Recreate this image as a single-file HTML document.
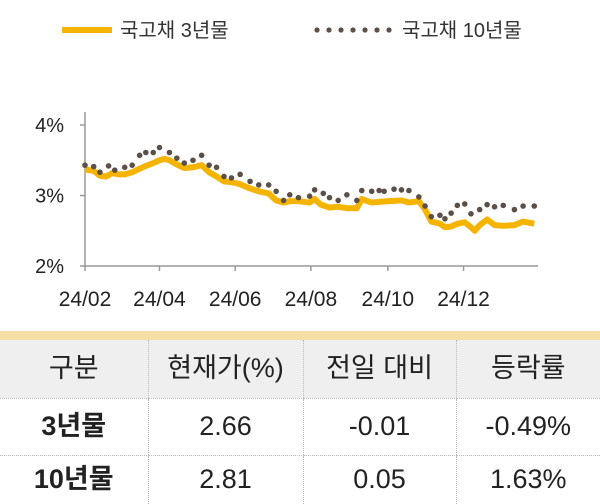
<!DOCTYPE html>
<html><head><meta charset="utf-8"><style>
body{margin:0;width:600px;height:504px;background:#fff;overflow:hidden;font-family:"Liberation Sans","Noto Sans CJK KR",sans-serif;position:relative}
svg{position:absolute;left:0;top:0}
table{position:absolute;left:0;top:340px;width:600px;border-collapse:collapse;table-layout:fixed}
td{text-align:center;color:#222;font-size:27px;border-left:1px dotted #bbb;border-bottom:1px dotted #bbb;padding:0;line-height:1;box-sizing:border-box}
td:first-child{border-left:none}
.h td{background:#efefef;height:58px}
.r td{height:57px}
.r2 td{height:49px;border-bottom:none}
.b{font-weight:bold}
</style></head><body>
<div style="position:absolute;left:0;top:331px;width:600px;height:9px;background:#f6dfa6"></div>
<svg id="chart" width="600" height="330"></svg>
<table>
<colgroup><col style="width:148px"><col style="width:155px"><col style="width:153px"><col style="width:144px"></colgroup>
<tr class="h"><td>구분</td><td>현재가(%)</td><td>전일 대비</td><td>등락률</td></tr>
<tr class="r"><td class="b">3년물</td><td>2.66</td><td>-0.01</td><td>-0.49%</td></tr>
<tr class="r2"><td class="b">10년물</td><td>2.81</td><td>0.05</td><td>1.63%</td></tr>
</table>
<script>
const days3=[0,7,12,17,22,27,32,38,44,49,55,60,64,68,74,80,87,94,100,106,112,118,125,133,140,148,154,160,165,172,181,185,190,197,204,211,219,223,231,237,245,255,261,269,274,279,286,290,295,300,306,311,314,318,324,330,337,346,353,362];
const y3=[3.37,3.35,3.28,3.27,3.32,3.30,3.30,3.33,3.38,3.42,3.46,3.50,3.52,3.50,3.44,3.39,3.40,3.43,3.33,3.27,3.20,3.19,3.16,3.10,3.06,3.03,2.93,2.90,2.92,2.92,2.90,2.95,2.87,2.83,2.84,2.82,2.82,2.95,2.90,2.91,2.92,2.93,2.90,2.92,2.80,2.63,2.60,2.55,2.56,2.60,2.62,2.55,2.50,2.58,2.66,2.58,2.57,2.58,2.63,2.60];
const days10=[0,7,12,19,24,32,38,44,49,55,60,68,74,80,87,94,100,106,112,118,125,133,140,148,154,160,165,172,181,185,192,197,204,211,219,223,231,237,241,249,255,261,269,274,279,286,290,295,300,306,311,318,324,330,337,346,353,362];
const y10=[3.43,3.41,3.33,3.42,3.36,3.40,3.43,3.57,3.61,3.61,3.68,3.61,3.53,3.46,3.50,3.57,3.43,3.40,3.27,3.25,3.30,3.20,3.15,3.15,3.06,2.93,3.01,2.97,2.99,3.08,3.03,2.97,2.93,3.01,2.93,3.07,3.06,3.07,3.06,3.09,3.08,3.07,2.98,2.85,2.70,2.72,2.67,2.75,2.86,2.88,2.74,2.80,2.87,2.84,2.86,2.80,2.85,2.85];
const yTicks=[2,3,4];
const xTickDays=[0,60,121,182,244,305];
const xTickLabels=["24/02","24/04","24/06","24/08","24/10","24/12"];
const NS="http://www.w3.org/2000/svg";
const svg=document.getElementById('chart');
const X=d=>85+d*(453/365);
const Y=v=>266-(v-2)*70.5;
function mk(t,a){const e=document.createElementNS(NS,t);for(const k in a)e.setAttribute(k,a[k]);svg.appendChild(e);return e;}
let e=mk('line',{x1:62,y1:30,x2:112,y2:30,stroke:'#f5b400','stroke-width':6});


e=mk('text',{x:120,y:37,'font-size':20,fill:'#333'});e.textContent='국고채 3년물';


for(let i=0;i<7;i++){e=mk('circle',{cx:317+i*12,cy:30,r:2.6,fill:'#5a5048'});

}
e=mk('text',{x:402,y:37,'font-size':20,fill:'#333'});e.textContent='국고채 10년물';


e=mk('line',{x1:85,y1:112,x2:85,y2:266,stroke:'#999','stroke-width':1.5});


e=mk('line',{x1:85,y1:266,x2:538,y2:266,stroke:'#999','stroke-width':1.5});


yTicks.forEach(v=>{mk('line',{x1:80,y1:Y(v),x2:85,y2:Y(v),stroke:'#999','stroke-width':1.5});
e=mk('text',{x:64,y:Y(v)+7,'font-size':20,fill:'#222','text-anchor':'end'});e.textContent=v+'%';

});
xTickDays.forEach((d,i)=>{mk('line',{x1:X(d),y1:266,x2:X(d),y2:271,stroke:'#999','stroke-width':1.5});
e=mk('text',{x:X(d),y:306,'font-size':21,fill:'#222','text-anchor':'middle'});e.textContent=xTickLabels[i];

});
e=mk('polyline',{points:days3.map((d,i)=>X(d)+','+Y(y3[i])).join(' '),fill:'none',stroke:'#f5b400','stroke-width':6,'stroke-linejoin':'round'});


days10.forEach((d,i)=>{e=mk('circle',{cx:X(d),cy:Y(y10[i]),r:2.8,fill:'#5a5048'});

});
</script>
</body></html>
